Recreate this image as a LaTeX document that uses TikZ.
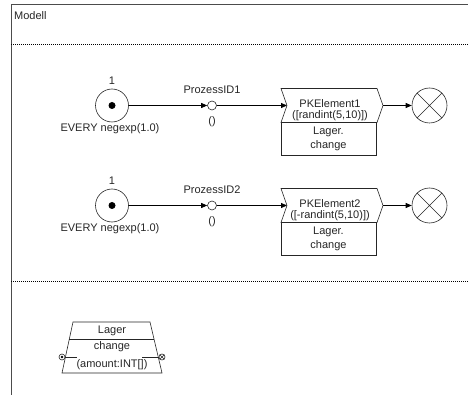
\documentclass[tikz,border=0pt]{standalone}
\usepackage{fontspec}
\setmainfont{Liberation Sans}
\usetikzlibrary{arrows.meta}
\begin{document}
\begin{tikzpicture}[x=1pt,y=-1pt,
  txt/.style={font=\fontsize{11}{13.5}\selectfont, inner sep=0pt, text=black!85},
  conn/.style={line width=0.8pt, draw=black, -{Triangle[length=6pt,width=5pt]}},
  shp/.style={draw=black!85, line width=0.6pt},
  startc/.style={shp, circle, minimum size=33pt, inner sep=0pt},
  endc/.style={shp, circle, minimum size=35pt, inner sep=0pt},
  dotc/.style={circle, fill=black, minimum size=7pt, inner sep=0pt},
  pc/.style={shp, circle, fill=white, minimum size=9pt, inner sep=0pt},
  smallc/.style={shp, circle, fill=white, minimum size=6pt, inner sep=0pt},
  rectbox/.style={shp, minimum width=95pt, minimum height=33.5pt, inner sep=0pt, align=center},
  framel/.style={draw=black!70, line width=0.7pt},
  dotl/.style={draw=black, line width=0.6pt, dash pattern=on 0.6pt off 1.4pt}
]
\useasboundingbox (0,0) rectangle (468,395);
% frame
\draw[framel] (11,395) -- (11,4) -- (468,4);
\node[txt, anchor=west] (title) at (14,16) {Modell};
\draw[dotl] (11,44) -- (468,44);
\draw[dotl] (11,281) -- (468,281);

\foreach \n/\y/\ex in {1/105.5/{([randint(5,10)])}, 2/205.5/{([-randint(5,10)])}} {
  \node[startc] (s\n) at (112,\y) {};
  \node[dotc] (d\n) at (112,\y) {};
  \node[txt] (one\n) at (112,\y-25) {1};
  \node[txt] (ev\n) at (110,\y+23) {EVERY negexp(1.0)};
  \node[pc] (p\n) at (212,\y) {};
  \node[txt] (pl\n) at (212,\y-16) {ProzessID\n};
  \node[txt] (pa\n) at (212,\y+16.5) {()};
  \draw[shp] (281,\y-17) -- (377,\y-17) -- (383,\y) -- (377,\y+17) -- (281,\y+17) -- (287,\y) -- cycle;
  \coordinate (k\n) at (287,\y);
  \coordinate (t\n) at (383,\y);
  \node[txt] (c\n) at (330,\y-2) {PKElement\n};
  \node[txt] (cx\n) at (330,\y+10.5) {\ex};
  \node[rectbox, txt] (r\n) at (328.5,\y+33.25) {Lager.\\change};
  \node[endc] (e\n) at (429.5,\y) {};
  \draw[shp] (e\n.north west) -- (e\n.south east) (e\n.north east) -- (e\n.south west);
  \draw[conn] (s\n) -- (p\n);
  \draw[conn] (p\n) -- (k\n);
  \draw[conn] (t\n) -- (e\n);
}

% Lager element
\draw[shp] (73,322) -- (150,322) -- (162,373) -- (62,373) -- cycle;
\draw[shp] (69.3,339) -- (154,339);
\node[txt] (lname) at (112,331) {Lager};
\node[txt] (lop) at (112,347) {change};
\node[txt] (lpar) at (112,365) {(amount:INT[])};
\node[smallc] (li) at (62,357) {};
\node[circle, fill=black, minimum size=2.6pt, inner sep=0pt] (lid) at (62,357) {};
\node[smallc] (lo) at (162,357) {};
\draw[black!85, line width=0.5pt] (lo.north west) -- (lo.south east) (lo.north east) -- (lo.south west);
\draw[shp] (li) -- (77,357);
\draw[shp] (142,357) -- (lo);
\end{tikzpicture}
\end{document}
